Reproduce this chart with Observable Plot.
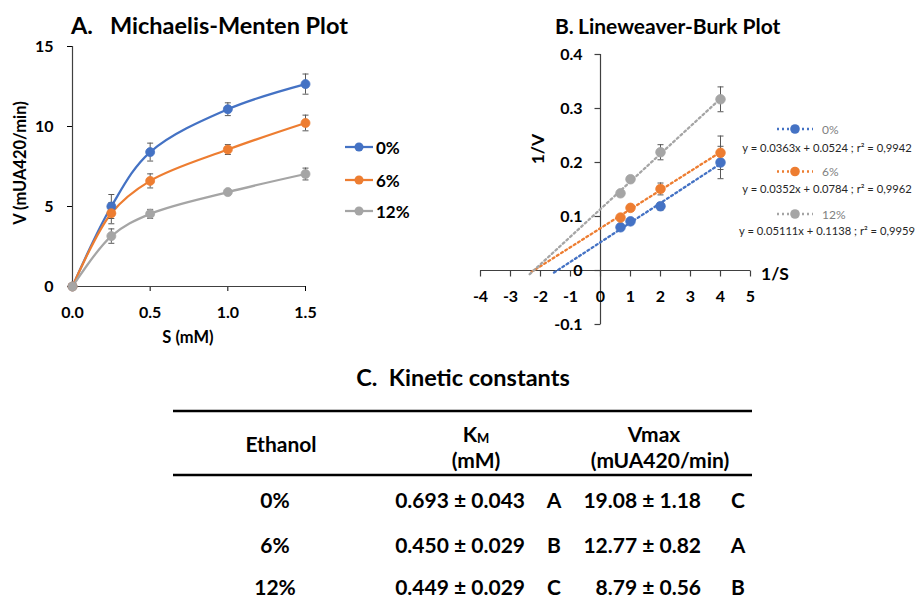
<!DOCTYPE html>
<html><head><meta charset="utf-8">
<script src="https://cdn.jsdelivr.net/npm/d3@7"></script>
<script src="https://cdn.jsdelivr.net/npm/@observablehq/plot@0.6"></script>
<style>
html,body{margin:0;padding:0;background:#fff;}
#fig{position:relative;width:921px;height:601px;font-family:Lato,sans-serif;overflow:hidden;background:#fff;}
#fig > svg{position:absolute;}
</style></head><body><div id="fig"></div>
<script>
// ---------- data ----------
const series = ["0%", "6%", "12%"];
const colors = ["#4472C4", "#ED7D31", "#A5A5A5"];

// A. Michaelis-Menten
const S = [0, 0.25, 0.5, 1.0, 1.5];
const V0 = [0, 5.0, 8.4, 11.08, 12.65];
const V6 = [0, 4.58, 6.6, 8.56, 10.22];
const V12 = [0, 3.15, 4.54, 5.9, 7.03];
const errV0 = [0, 0.75, 0.56, 0.4, 0.63];
const errV6 = [0, 0.66, 0.44, 0.31, 0.49];
const errV12 = [0, 0.45, 0.28, 0.15, 0.37];
const ticksAx = [0, 0.5, 1.0, 1.5];
const labelsAx = ["0.0", "0.5", "1.0", "1.5"];
const ticksAy = [0, 5, 10, 15];
const labelsAy = ["0", "5", "10", "15"];

// B. Lineweaver-Burk
const invS = [0.667, 1, 2, 4];
const invV0 = [0.080, 0.091, 0.119, 0.200];
const invV6 = [0.098, 0.116, 0.151, 0.218];
const invV12 = [0.143, 0.169, 0.219, 0.317];
const errInv0 = [0.003, 0.004, 0.007, 0.030];
const errInv6 = [0.004, 0.005, 0.011, 0.031];
const errInv12 = [0.004, 0.004, 0.014, 0.023];
const slopes = [0.0363, 0.0352, 0.05111];
const intercepts = [0.0524, 0.0784, 0.1138];
const r2 = ["0,9942", "0,9962", "0,9959"];
const trendFrom = [-1.55, -2.3, -2.36];
const trendTo = [4, 4, 4];
const ticksBx = [-4, -3, -2, -1, 0, 1, 2, 3, 4, 5];
const labelsBx = ["-4", "-3", "-2", "-1", "0", "1", "2", "3", "4", "5"];
const ticksBy = [-0.1, 0, 0.1, 0.2, 0.3, 0.4];
const labelsBy = ["-0.1", "0", "0.1", "0.2", "0.3", "0.4"];

// C. Kinetic constants
const ethanol = ["0%", "6%", "12%"];
const km = ["0.693 ± 0.043", "0.450 ± 0.029", "0.449 ± 0.029"];
const kmGroup = ["A", "B", "C"];
const vmax = ["19.08 ± 1.18", "12.77 ± 0.82", "8.79 ± 0.56"];
const vmaxGroup = ["C", "A", "B"];

// ---------- helpers ----------
const capSym = {draw(ctx, size) { const w = Math.sqrt(size / Math.PI); ctx.moveTo(-w, 0); ctx.lineTo(w, 0); }};
const downTick = {draw(ctx, size) { const w = Math.sqrt(size / Math.PI); ctx.moveTo(0, 0); ctx.lineTo(0, w); }};
const leftTick = {draw(ctx, size) { const w = Math.sqrt(size / Math.PI); ctx.moveTo(0, 0); ctx.lineTo(-w, 0); }};
const AX = "#404040", ERR = "#595959";
const DOT = "2 3";
const fig = document.getElementById("fig");

// ---------- Plot A ----------
const VA = [V0, V6, V12], EA = [errV0, errV6, errV12];
const rowsA = series.flatMap((s, i) => S.map((x, j) => ({s, x, v: VA[i][j], e: EA[i][j]})));
const errA = rowsA.filter(d => d.e > 0);
const plotA = Plot.plot({
  width: 360, height: 350,
  marginLeft: 72, marginRight: 55, marginTop: 46, marginBottom: 64,
  x: {domain: [0, 1.5], ticks: ticksAx, tickFormat: d => labelsAx[ticksAx.indexOf(d)], tickSize: 5, tickPadding: 15, label: null},
  y: {domain: [0, 15], ticks: ticksAy, tickFormat: d => labelsAy[ticksAy.indexOf(d)], tickSize: 5, tickPadding: 14, label: null},
  color: {domain: series, range: colors},
  style: {fontFamily: "Lato, sans-serif", fontSize: "16px", fontWeight: "bold", color: "#000", background: "transparent", overflow: "visible"},
  marks: [
    Plot.ruleY([0], {stroke: AX, strokeWidth: 1.2}),
    Plot.ruleX([0], {stroke: AX, strokeWidth: 1.2}),
    Plot.line(rowsA, {x: "x", y: "v", z: "s", stroke: "s", curve: "catmull-rom", strokeWidth: 2.25}),
    Plot.ruleX(errA, {x: "x", y1: d => d.v - d.e, y2: d => d.v + d.e, stroke: ERR, strokeWidth: 1}),
    Plot.dot(errA, {x: "x", y: d => d.v + d.e, symbol: capSym, r: 3, stroke: ERR, fill: "none", strokeWidth: 1}),
    Plot.dot(errA, {x: "x", y: d => d.v - d.e, symbol: capSym, r: 3, stroke: ERR, fill: "none", strokeWidth: 1}),
    Plot.dot(rowsA, {x: "x", y: "v", fill: "s", stroke: "s", r: 4.5, strokeWidth: 0.8})
  ]
});
plotA.style.left = "0px"; plotA.style.top = "0px";
fig.appendChild(plotA);

// ---------- Plot B ----------
const VB = [invV0, invV6, invV12], EB = [errInv0, errInv6, errInv12];
const rowsB = series.flatMap((s, i) => invS.map((x, j) => ({s, x, v: VB[i][j], e: EB[i][j]})));
const trendRows = series.flatMap((s, i) => [trendFrom[i], trendTo[i]].map(x => ({s, x, y: slopes[i] * x + intercepts[i]})));
const plotB = Plot.plot({
  width: 481, height: 340,
  marginLeft: 40, marginRight: 171, marginTop: 54, marginBottom: 16,
  x: {domain: [-4, 5], axis: null},
  y: {domain: [-0.1, 0.4], axis: null},
  color: {domain: series, range: colors},
  style: {fontFamily: "Lato, sans-serif", fontSize: "16px", fontWeight: "bold", color: "#000", background: "transparent", overflow: "visible"},
  marks: [
    Plot.ruleY([0], {x1: -4, x2: 5, stroke: AX, strokeWidth: 1.2}),
    Plot.ruleX([0], {y1: -0.1, y2: 0.4, stroke: AX, strokeWidth: 1.2}),
    Plot.dot(ticksBx, {x: d => d, y: 0, symbol: downTick, r: 6, stroke: AX, fill: "none", strokeWidth: 1.2}),
    Plot.dot(ticksBy, {x: 0, y: d => d, symbol: leftTick, r: 6, stroke: AX, fill: "none", strokeWidth: 1.2}),
    Plot.text(ticksBx, {x: d => d, y: 0, text: (d, i) => labelsBx[i], dy: 26, fill: "#000"}),
    Plot.text(ticksBy, {x: 0, y: d => d, text: (d, i) => labelsBy[i], dx: -18, textAnchor: "end", fill: "#000"}),
    Plot.line(trendRows, {x: "x", y: "y", z: "s", stroke: "s", strokeWidth: 2.3, strokeDasharray: DOT}),
    Plot.ruleX(rowsB, {x: "x", y1: d => d.v - d.e, y2: d => d.v + d.e, stroke: ERR, strokeWidth: 1}),
    Plot.dot(rowsB, {x: "x", y: d => d.v + d.e, symbol: capSym, r: 3, stroke: ERR, fill: "none", strokeWidth: 1}),
    Plot.dot(rowsB, {x: "x", y: d => d.v - d.e, symbol: capSym, r: 3, stroke: ERR, fill: "none", strokeWidth: 1}),
    Plot.dot(rowsB, {x: "x", y: "v", fill: "s", stroke: "s", r: 4.8, strokeWidth: 0.8})
  ]
});
plotB.style.left = "440px"; plotB.style.top = "0px";
fig.appendChild(plotB);

// ---------- overlay: titles, axis titles, legends, table ----------
const ov = d3.create("svg").attr("width", 921).attr("height", 601)
  .style("left", "0px").style("top", "0px").style("pointer-events", "none")
  .style("font-family", "Lato, sans-serif");
function txt(x, y, s, o = {}) {
  const t = ov.append("text").attr("x", x).attr("y", y).attr("dominant-baseline", "central")
    .attr("text-anchor", o.anchor || "start").attr("font-size", o.size || 16)
    .attr("font-weight", o.weight || "bold").attr("fill", o.fill || "#000").text(s);
  if (o.rotate) t.attr("transform", `rotate(-90,${x},${y})`);
  return t;
}
// titles
txt(71, 25, "A.", {size: 23.5});
txt(110, 25, "Michaelis-Menten Plot", {size: 23.5});
txt(555, 25, "B.", {size: 21});
txt(578, 25, "Lineweaver-Burk Plot", {size: 21});
txt(463, 377, "C.  Kinetic constants", {size: 23.5, anchor: "middle"}).style("white-space", "pre");
// axis titles
txt(20, 163, "V (mUA420/min)", {size: 16.5, anchor: "middle", rotate: true});
txt(188, 337, "S (mM)", {size: 16.5, anchor: "middle"});
txt(537, 149, "1/V", {size: 17.5, anchor: "middle", rotate: true});
txt(775, 273, "1/S", {size: 17.5, anchor: "middle"});
// legend A
const legAy = [147, 180, 211];
series.forEach((s, i) => {
  ov.append("line").attr("x1", 345).attr("x2", 373).attr("y1", legAy[i]).attr("y2", legAy[i]).attr("stroke", colors[i]).attr("stroke-width", 2.25);
  ov.append("circle").attr("cx", 359).attr("cy", legAy[i]).attr("r", 4.5).attr("fill", colors[i]);
  txt(376, legAy[i], s, {size: 17});
});
// legend B
const legBy = [129, 171.5, 214], eqBy = [147, 188.5, 230.5];
series.forEach((s, i) => {
  ov.append("line").attr("x1", 777).attr("x2", 813).attr("y1", legBy[i]).attr("y2", legBy[i]).attr("stroke", colors[i]).attr("stroke-width", 2.3).attr("stroke-dasharray", DOT);
  ov.append("circle").attr("cx", 795).attr("cy", legBy[i]).attr("r", 4.8).attr("fill", colors[i]);
  txt(822, legBy[i], s, {size: 12, weight: "normal", fill: "#7f7f7f"});
  txt(827, eqBy[i], `y = ${slopes[i]}x + ${intercepts[i]} ; r² = ${r2[i]}`, {size: 11.2, weight: "normal", fill: "#262626", anchor: "middle"});
});
// table
[411, 475].forEach(y => ov.append("line").attr("x1", 173).attr("x2", 752).attr("y1", y).attr("y2", y).attr("stroke", "#000").attr("stroke-width", 2.6));
const TS = 21;
txt(281, 443, "Ethanol", {size: TS, anchor: "middle"});
const kmH = txt(476, 433, "K", {size: TS, anchor: "middle"});
kmH.append("tspan").attr("font-size", 13).attr("dy", 5).text("M");
txt(476, 459, "(mM)", {size: TS, anchor: "middle"});
txt(654, 433, "Vmax", {size: TS, anchor: "middle"});
txt(660, 459, "(mUA420/min)", {size: TS, anchor: "middle"});
const rowY = [499, 544, 586];
ethanol.forEach((e, i) => {
  txt(275, rowY[i], e, {size: TS, anchor: "middle"});
  txt(525, rowY[i], km[i], {size: TS, anchor: "end"});
  txt(554, rowY[i], kmGroup[i], {size: TS, anchor: "middle"});
  txt(701, rowY[i], vmax[i], {size: TS, anchor: "end"});
  txt(738, rowY[i], vmaxGroup[i], {size: TS, anchor: "middle"});
});
fig.appendChild(ov.node());
</script></body></html>
